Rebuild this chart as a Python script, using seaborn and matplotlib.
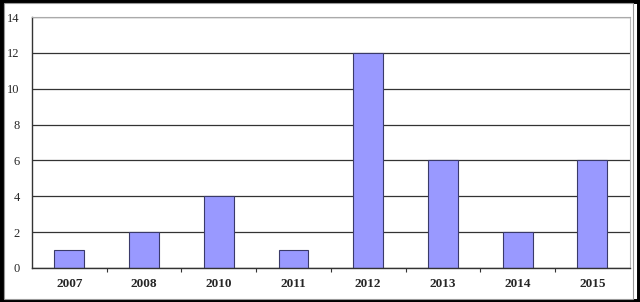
import matplotlib
matplotlib.use("Agg")
import matplotlib.pyplot as plt
import seaborn as sns
import pandas as pd
from matplotlib.patches import Rectangle
from matplotlib.ticker import FixedLocator

years = ["2007", "2008", "2010", "2011", "2012", "2013", "2014", "2015"]
counts = [1, 2, 4, 1, 12, 6, 2, 6]
y_ticks = [0, 2, 4, 6, 8, 10, 12, 14]

sns.set_theme(style="white")
plt.rcParams['font.family'] = ['Liberation Serif', 'DejaVu Serif']

df = pd.DataFrame({"year": years, "count": counts})

fig = plt.figure(figsize=(6.4, 3.02), dpi=100)
ax = fig.add_axes([0.05, 0.1126, 0.934, 0.8311])

sns.barplot(data=df, x="year", y="count", ax=ax, color="#9999FF",
            saturation=1, width=0.4, edgecolor="#3a3a6a", linewidth=0.8)

ax.set_ylim(0, 14)
ax.set_xlim(-0.5, len(years) - 0.5)
ax.set_yticks(y_ticks)
ax.set_yticklabels([str(t) for t in y_ticks], fontsize=9)
ax.yaxis.grid(True, color="#333333", linewidth=0.9)
ax.set_axisbelow(True)
ax.set_xlabel("")
ax.set_ylabel("")
for lbl in ax.get_xticklabels():
    lbl.set_fontsize(9.5)
    lbl.set_fontweight("bold")

ax.tick_params(axis="x", which="major", length=0, pad=7)
ax.tick_params(axis="y", which="major", length=0, pad=9)
ax.xaxis.set_minor_locator(FixedLocator([i + 0.5 for i in range(len(years) - 1)]))
ax.tick_params(axis="x", which="minor", length=3, color="#333333", width=0.8, bottom=True)

for side in ["left", "bottom"]:
    ax.spines[side].set_color("#333333")
    ax.spines[side].set_linewidth(1.0)
ax.spines["top"].set_color("#aaaaaa")
ax.spines["top"].set_linewidth(0.8)
ax.spines["right"].set_color("#bbbbbb")
ax.spines["right"].set_linewidth(0.8)

# figure frame
fig.patches.append(Rectangle((0, 0), 1, 1, transform=fig.transFigure,
                             fill=False, edgecolor="black", linewidth=5))
fig.patches.append(Rectangle((0.0055, 0.0115), 0.984, 0.978, transform=fig.transFigure,
                             fill=False, edgecolor="#999999", linewidth=0.8))

fig.savefig("out.png", dpi=100)
